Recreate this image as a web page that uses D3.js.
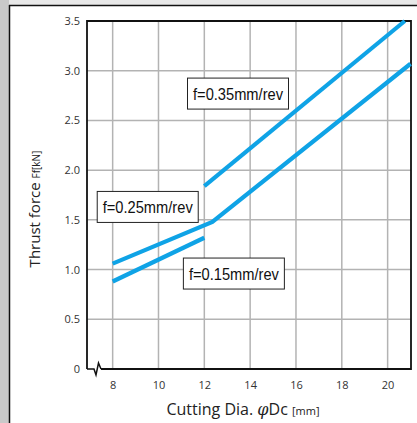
<!DOCTYPE html>
<html>
<head>
<meta charset="utf-8">
<script src="https://cdn.jsdelivr.net/npm/d3@7/dist/d3.min.js"></script>
<style>
  body { margin: 0; background: #fff; }
  svg { display: block; }
</style>
</head>
<body>
<div id="chart-area"></div>
<script>
const WIDTH = 417;
const HEIGHT = 423;

// data
const xTicks = [8, 10, 12, 14, 16, 18, 20];
const yTicks = [0, 0.5, 1.0, 1.5, 2.0, 2.5, 3.0, 3.5];
const seriesNames = ["f=0.35mm/rev", "f=0.25mm/rev", "f=0.15mm/rev"];
const dia035 = [12, 20.75];
const force035 = [1.84, 3.5];
const dia025 = [8, 12.35, 21];
const force025 = [1.06, 1.48, 3.07];
const dia015 = [8, 12];
const force015 = [0.88, 1.32];
// label anchor (centre of box) in data units
const labelX = [13.47, 9.53, 13.29];
const labelY = [2.77, 1.63, 0.96];

const plot = { left: 87, right: 411, top: 21, bottom: 369 };

const svg = d3.select("#chart-area").append("svg")
    .attr("width", WIDTH).attr("height", HEIGHT);

// outer frame
svg.append("rect").attr("x", 0).attr("y", 0).attr("width", WIDTH).attr("height", HEIGHT).attr("fill", "#fff");
svg.append("rect").attr("x", 0).attr("y", 0).attr("width", WIDTH).attr("height", 5).attr("fill", "#e8e8e8");
svg.append("rect").attr("x", 0).attr("y", 0).attr("width", 9).attr("height", HEIGHT).attr("fill", "#c9c9c9");
svg.append("line").attr("x1", 9.5).attr("x2", 9.5).attr("y1", 5).attr("y2", HEIGHT).attr("stroke", "#111").attr("stroke-width", 1.5);
svg.append("line").attr("x1", 9).attr("x2", WIDTH).attr("y1", 5.5).attr("y2", 5.5).attr("stroke", "#111").attr("stroke-width", 1.5);

const x = d3.scaleLinear().domain([6.88, 21.02]).range([plot.left, plot.right]);
const y = d3.scaleLinear().domain([0, 3.5]).range([plot.bottom, plot.top]);

// grid
const grid = svg.append("g").attr("stroke", "#b3b3b3").attr("stroke-width", 1.5);
grid.selectAll(".vg").data(xTicks).enter().append("line")
    .attr("x1", d => x(d)).attr("x2", d => x(d))
    .attr("y1", plot.top).attr("y2", plot.bottom);
grid.selectAll(".hg").data(yTicks.filter(d => d > 0 && d < 3.5)).enter().append("line")
    .attr("x1", plot.left).attr("x2", plot.right)
    .attr("y1", d => y(d)).attr("y2", d => y(d));

// axes (labels only)
const xAxisCall = d3.axisBottom(x).tickValues(xTicks).tickSize(0).tickPadding(12);
const xAxis = svg.append("g").attr("transform", `translate(0, ${plot.bottom})`).call(xAxisCall);
xAxis.select(".domain").remove();
xAxis.selectAll("text").attr("font-family", "Open Sans, sans-serif").attr("font-size", "11px").attr("fill", "#333");

const yAxisCall = d3.axisLeft(y).tickValues(yTicks).tickSize(0).tickPadding(7)
    .tickFormat(d => d === 0 ? "0" : d3.format(".1f")(d));
const yAxis = svg.append("g").attr("transform", `translate(${plot.left}, 0)`).call(yAxisCall);
yAxis.select(".domain").remove();
yAxis.selectAll("text").attr("font-family", "Open Sans, sans-serif").attr("font-size", "11px").attr("fill", "#333");

// frame with axis break
const frame = svg.append("g").attr("fill", "none").attr("stroke", "#111").attr("stroke-width", 1.8);
frame.append("path").attr("d",
    `M${plot.left},${plot.bottom}L${plot.left},${plot.top}L${plot.right},${plot.top}L${plot.right},${plot.bottom}L101,${plot.bottom}`);
frame.append("path").attr("d",
    `M${plot.left},${plot.bottom}L94,${plot.bottom}L96,${plot.bottom + 6}L98.5,${plot.bottom - 6}L101,${plot.bottom}`)
    .attr("stroke-width", 1.5);

// series lines
const lineGen = d3.line().x(d => x(d[0])).y(d => y(d[1]));
const series = [
    d3.zip(dia035, force035),
    d3.zip(dia025, force025),
    d3.zip(dia015, force015)
];
svg.append("g").selectAll("path").data(series).enter().append("path")
    .attr("d", lineGen)
    .attr("fill", "none")
    .attr("stroke", "#0fa3e6")
    .attr("stroke-width", 4.2);

// series labels
const boxW = 101, boxH = 31;
const labels = svg.append("g").selectAll("g").data(seriesNames).enter().append("g")
    .attr("transform", (d, i) => `translate(${x(labelX[i])}, ${y(labelY[i])})`);
labels.append("rect")
    .attr("x", -boxW / 2).attr("y", -boxH / 2).attr("width", boxW).attr("height", boxH)
    .attr("fill", "#fff").attr("stroke", "#222").attr("stroke-width", 1);
labels.append("text")
    .attr("text-anchor", "middle").attr("y", 6)
    .attr("font-family", "Liberation Sans, sans-serif").attr("font-size", "16.5px").attr("fill", "#111")
    .attr("textLength", 90).attr("lengthAdjust", "spacingAndGlyphs")
    .text(d => d);

// axis titles
const xt = svg.append("text").attr("x", 243).attr("y", 415)
    .attr("text-anchor", "middle")
    .attr("font-family", "Open Sans, sans-serif").attr("font-size", "16px").attr("fill", "#222");
xt.append("tspan").text("Cutting Dia. ");
xt.append("tspan").attr("font-style", "italic").attr("font-family", "DejaVu Serif, serif").text("φ");
xt.append("tspan").text("Dc ");
xt.append("tspan").attr("font-size", "11px").text("[mm]");

const yt = svg.append("text")
    .attr("transform", "translate(40, 209) rotate(-90)")
    .attr("text-anchor", "middle")
    .attr("font-family", "Open Sans, sans-serif").attr("font-size", "15px").attr("fill", "#222");
yt.append("tspan").text("Thrust force ");
yt.append("tspan").attr("font-size", "10px").text("Ff[kN]");
</script>
</body>
</html>
